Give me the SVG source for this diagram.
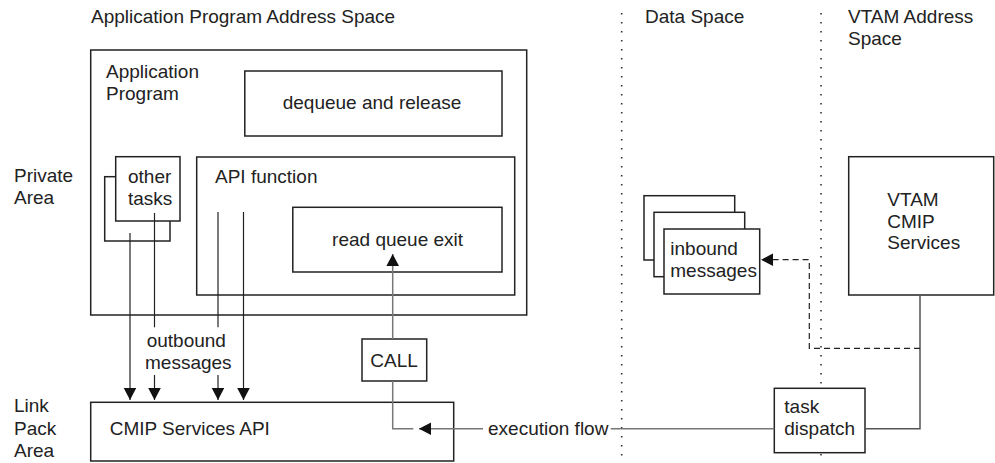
<svg xmlns="http://www.w3.org/2000/svg" width="995" height="463" viewBox="0 0 995 463">
<style>
text{font-family:"Liberation Sans",Arial,Helvetica,sans-serif;font-size:19px;fill:#222}
.box{fill:#fff;stroke:#222;stroke-width:1.5}
.frame{fill:none;stroke:#222;stroke-width:1.5}
.ln{fill:none;stroke:#222;stroke-width:1.2}
.gr{fill:none;stroke:#777;stroke-width:1.5}
.gr2{fill:none;stroke:#555;stroke-width:1.5}
.dash{fill:none;stroke:#222;stroke-width:1.2;stroke-dasharray:6 4}
.dot{fill:none;stroke:#333;stroke-width:1.6;stroke-dasharray:1.5 7.5}
.c{text-anchor:middle}
</style>
<defs>
<marker id="ah" markerUnits="userSpaceOnUse" markerWidth="13" markerHeight="13" refX="12" refY="6.3" orient="auto">
<path d="M0,0 L12,6.3 L0,12.6 z" fill="#111"/>
</marker>
</defs>

<g id="labels">
<text x="91" y="23">Application Program Address Space</text>
<text x="645" y="23">Data Space</text>
<text x="848" y="23">VTAM Address</text>
<text x="848" y="45">Space</text>
<text x="14" y="182">Private</text>
<text x="14" y="204">Area</text>
<text x="14" y="412">Link</text>
<text x="14" y="435">Pack</text>
<text x="14" y="457">Area</text>
</g>

<g id="separators">
<line class="dot" x1="621.7" y1="13" x2="621.7" y2="463"/>
<line class="dot" x1="821" y1="13" x2="821" y2="463"/>
</g>

<g id="application-program">
<rect class="frame" x="90.7" y="50" width="436" height="265"/>
<text x="106" y="78">Application</text>
<text x="106" y="100">Program</text>
</g>

<g id="dequeue-release">
<rect class="box" x="244.8" y="71" width="257.2" height="65"/>
<text class="c" x="372" y="109">dequeue and release</text>
</g>

<g id="other-tasks">
<rect class="box" x="104.7" y="176.7" width="65.3" height="64.3"/>
<rect class="box" x="115.7" y="156.7" width="64.3" height="64.3"/>
<text x="128" y="183">other</text>
<text x="128" y="205">tasks</text>
</g>

<g id="api-function">
<rect class="frame" x="196.7" y="157" width="318" height="138"/>
<text x="215" y="183">API function</text>
</g>

<g id="read-queue-exit">
<rect class="box" x="292.8" y="207.3" width="209.2" height="64.7"/>
<text class="c" x="397.6" y="246">read queue exit</text>
</g>

<g id="call">
<rect class="box" x="362" y="339" width="64.7" height="42"/>
<text class="c" x="394" y="367">CALL</text>
</g>

<g id="cmip-services-api">
<rect class="box" x="90.7" y="402.3" width="363" height="58.7"/>
<text x="109.7" y="435">CMIP Services API</text>
</g>

<g id="inbound-messages">
<rect class="box" x="644" y="195.7" width="90.7" height="64.3"/>
<rect class="box" x="654" y="212.3" width="90.7" height="64.4"/>
<rect class="box" x="664" y="229" width="95.7" height="65"/>
<text x="670.3" y="255">inbound</text>
<text x="670.3" y="277">messages</text>
</g>

<g id="vtam-cmip-services">
<rect class="box" x="848.7" y="156.7" width="145" height="138.3"/>
<text x="887.3" y="206">VTAM</text>
<text x="887.3" y="228">CMIP</text>
<text x="887.3" y="249">Services</text>
</g>

<g id="task-dispatch">
<rect class="box" x="774.3" y="388.3" width="90.7" height="64.4"/>
<text x="784.3" y="413">task</text>
<text x="784.3" y="435">dispatch</text>
</g>

<g id="outbound-label">
<text x="146.7" y="347">outbound</text>
<text x="145" y="369.3">messages</text>
</g>

<g id="connectors">
<path class="ln" d="M130,233 V400" marker-end="url(#ah)"/>
<path class="ln" d="M154.5,213 V327.3"/>
<path class="ln" d="M154.5,375 V400" marker-end="url(#ah)"/>
<path class="ln" d="M218,212 V327.3"/>
<path class="ln" d="M218,375 V400" marker-end="url(#ah)"/>
<path class="ln" d="M243.5,212 V400" marker-end="url(#ah)"/>
<path class="gr" d="M392.7,339 V254" marker-end="url(#ah)"/>
<path class="gr" d="M392.7,381 V428.7 H413.3"/>
<path class="gr" d="M483,428.7 H419" marker-end="url(#ah)"/>
<text x="488" y="435">execution flow</text>
<path class="gr" d="M610.7,428.7 H774.3"/>
<path class="gr2" d="M920,295 V428.7 H865"/>
<path class="dash" d="M920,348.3 H809.3 V259.7 H761" marker-end="url(#ah)"/>
</g>
</svg>
